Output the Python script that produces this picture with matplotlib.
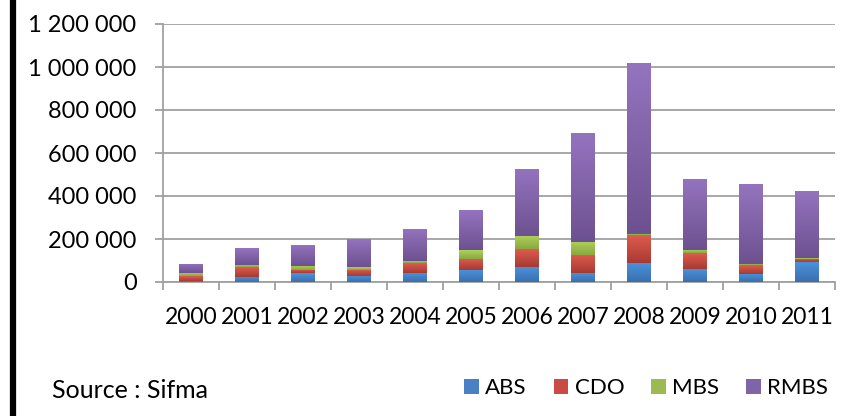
import numpy as np
import matplotlib
matplotlib.use("Agg")
import matplotlib.pyplot as plt
from matplotlib.colors import LinearSegmentedColormap
from matplotlib.lines import Line2D

plt.rcParams['font.family'] = ['Lato', 'DejaVu Sans']

years = ['2000', '2001', '2002', '2003', '2004', '2005', '2006', '2007', '2008', '2009', '2010', '2011']
abs_v = [6000, 25000, 40000, 29000, 43000, 57000, 71000, 43000, 90000, 62000, 39000, 95000]
cdo_v = [20000, 43000, 17000, 28000, 44000, 52000, 81000, 84000, 127000, 71000, 39000, 14000]
mbs_v = [14000, 13000, 19000, 11000, 12000, 41000, 63000, 61000, 8000, 17000, 7000, 4000]
rmbs_v = [45000, 79000, 98000, 134000, 149000, 186000, 312000, 506000, 795000, 331000, 372000, 312000]
series_names = ['ABS', 'CDO', 'MBS', 'RMBS']
yticks = [0, 200000, 400000, 600000, 800000, 1000000, 1200000]

top_colors = ['#4b93dd', '#df5b4f', '#aed15a', '#9574bf']
bot_colors = ['#3a6fae', '#a63a33', '#89a841', '#6c5190']
mid_colors = ['#4a81c4', '#c94b43', '#9bbb50', '#8064a8']

fig = plt.figure(figsize=(8.58, 4.16), dpi=100)
ax = fig.add_axes([163/858, 1-282/416, (835-163)/858, (282-24)/416])

x = np.arange(len(years))
bottom = np.zeros(len(years))
handles = []
for i, vals in enumerate([abs_v, cdo_v, mbs_v, rmbs_v]):
    v = np.array(vals, dtype=float)
    bars = ax.bar(x, v, 0.42, bottom=bottom, color=mid_colors[i], zorder=3,
                  linewidth=0, label=series_names[i])
    cmap = LinearSegmentedColormap.from_list('g%d' % i, [bot_colors[i], top_colors[i]])
    grad = np.linspace(0, 1, 256).reshape(-1, 1)
    for b in bars:
        x0, y0 = b.get_x(), b.get_y()
        w, h = b.get_width(), b.get_height()
        if h <= 0:
            continue
        im = ax.imshow(grad, cmap=cmap, aspect='auto', origin='lower',
                       extent=[x0, x0 + w, y0, y0 + h], zorder=4)
        im.set_clip_path(b)
    handles.append(bars)
    bottom += v

ax.set_xlim(-0.5, len(years) - 0.5)
ax.set_ylim(0, 1200000)
ax.set_yticks(yticks)
ax.set_yticklabels([f"{t:,}".replace(',', ' ') for t in yticks])
ax.set_xticks(x)
ax.set_xticklabels(years)
ax.set_xticks(np.arange(-0.5, len(years) + 0.5, 1), minor=True)

for s in ['top', 'right']:
    ax.spines[s].set_visible(False)
for s in ['left', 'bottom']:
    ax.spines[s].set_color('#a0a0a0')
    ax.spines[s].set_linewidth(1.3)
ax.grid(axis='y', color='#a0a0a0', linewidth=1.3, zorder=0)
ax.set_axisbelow(True)
ax.tick_params(axis='y', length=6, width=1.3, color='#a0a0a0', pad=13, labelsize=17)
ax.tick_params(axis='x', which='major', length=0, pad=18, labelsize=16.5)
ax.tick_params(axis='x', which='minor', length=6, width=1.3, color='#a0a0a0')

leg = fig.legend(handles=handles, labels=series_names, loc='center left',
                 bbox_to_anchor=(464/858, 1-388/416), ncol=4, frameon=False,
                 fontsize=16, handlelength=0.66, handleheight=0.66,
                 handletextpad=0.3, columnspacing=1.2, borderpad=0, borderaxespad=0)

fig.text(52/858, 1-390/416, 'Source : Sifma', fontsize=18, va='center', ha='left')

fig.add_artist(Line2D([13/858, 13/858], [0, 1], color='black', linewidth=4.5,
                      transform=fig.transFigure))

fig.savefig('out.png', dpi=100)
